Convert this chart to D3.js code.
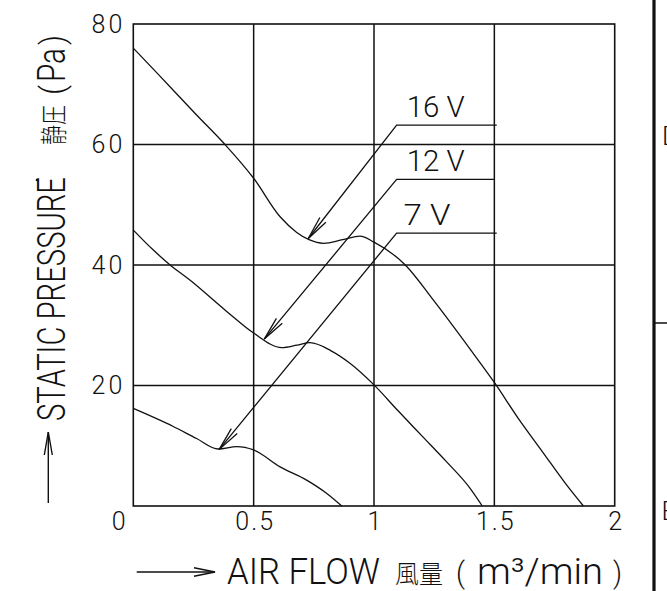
<!DOCTYPE html>
<html>
<head>
<meta charset="utf-8">
<script src="https://cdn.jsdelivr.net/npm/d3@7/dist/d3.min.js"></script>
<style>
  body { margin: 0; background: #fff; }
  svg { display: block; }
  text { font-family: Roboto, "Liberation Sans", sans-serif; font-weight: 300; fill: #111; }
  .cjk { font-family: "Noto Sans CJK JP", "Noto Sans CJK SC", sans-serif; font-weight: 300; }
</style>
</head>
<body>
<script>
// P-Q curves (flow m3/min, static pressure Pa)
var flow16 = [0, 0.1, 0.263, 0.381, 0.5, 0.61, 0.679, 0.73, 0.79, 0.87, 0.942, 1.0, 1.13, 1.25, 1.4, 1.5, 1.6, 1.7, 1.8, 1.87];
var pres16 = [76, 71.8, 64.9, 60, 54.4, 48, 45.4, 44.2, 43.6, 44.2, 44.8, 43.8, 40, 34, 26, 20.5, 14.5, 9, 3.5, 0];
var flow12 = [0, 0.08, 0.153, 0.235, 0.388, 0.5, 0.617, 0.68, 0.734, 0.82, 0.9, 1.0, 1.1, 1.2, 1.3, 1.4, 1.45];
var pres12 = [45.8, 42.6, 40, 37.5, 32.3, 28.7, 26.3, 26.7, 27.1, 25.8, 23.7, 20.1, 15.8, 11.6, 7.4, 2.9, 0];
var flow7 = [0, 0.166, 0.263, 0.353, 0.43, 0.5, 0.61, 0.72, 0.8, 0.866];
var pres7 = [16.2, 13.2, 11.2, 9.46, 9.85, 9.3, 6.5, 4.3, 2.2, 0];

var xTicks = [0, 0.5, 1, 1.5, 2];
var yTicks = [20, 40, 60, 80];
var xTickLabels = ['0', '0.5', '1', '1.5', '2'];

// leader labels: text, where the leader leaves (flow, Pa), where it ends on the line, arrow tip
var labels = ['16 V', '12 V', '7 V'];
var leaderFlow = [1.094, 1.094, 1.094];
var leaderEnd = [1.51, 1.50, 1.51];
var leaderPres = [63.2, 54.2, 45.3];
var tipFlow = [0.727, 0.544, 0.357];
var tipPres = [44.4, 27.7, 9.4];

var W = 667, H = 591;
var svg = d3.select('body').append('svg').attr('width', W).attr('height', H);

var x = d3.scaleLinear().domain([0, 2]).range([133.3, 614.7]);
var y = d3.scaleLinear().domain([0, 80]).range([506, 24]);

var ink = '#111';

// grid
svg.append('g').selectAll('line').data([0.5, 1, 1.5]).enter().append('line')
    .attr('x1', function(d) { return x(d); }).attr('x2', function(d) { return x(d); })
    .attr('y1', y(0)).attr('y2', y(80))
    .attr('stroke', ink).attr('stroke-width', 1.5);
svg.append('g').selectAll('line').data([20, 40, 60]).enter().append('line')
    .attr('x1', x(0)).attr('x2', x(2))
    .attr('y1', function(d) { return y(d); }).attr('y2', function(d) { return y(d); })
    .attr('stroke', ink).attr('stroke-width', 1.5);
svg.append('rect')
    .attr('x', x(0)).attr('y', y(80))
    .attr('width', x(2) - x(0)).attr('height', y(0) - y(80))
    .attr('fill', 'none').attr('stroke', ink).attr('stroke-width', 1.6);

// axes (labels only, the frame is drawn above)
var yAxis = d3.axisLeft(y).tickValues(yTicks).tickSize(0).tickPadding(8);
var gy = svg.append('g').attr('transform', 'translate(' + x(0) + ',0)').call(yAxis);
gy.select('.domain').remove();
gy.selectAll('text')
    .style('font-family', 'Roboto, sans-serif').style('font-weight', 300)
    .style('font-size', '25px').style('letter-spacing', '3px')
    .attr('fill', ink);

var xAxis = d3.axisBottom(x).tickValues(xTicks).tickSize(0).tickPadding(6)
    .tickFormat(function(d, i) { return xTickLabels[i]; });
var gx = svg.append('g').attr('transform', 'translate(0,' + y(0) + ')').call(xAxis);
gx.select('.domain').remove();
gx.selectAll('text')
    .style('font-family', 'Roboto, sans-serif').style('font-weight', 300)
    .style('font-size', '25px').style('letter-spacing', '2px')
    .attr('fill', ink)
    .attr('dx', function(d) { return d === 0 ? -14 : 1; });

// curves
var line = d3.line()
    .x(function(d) { return x(d[0]); })
    .y(function(d) { return y(d[1]); })
    .curve(d3.curveMonotoneX);

function zip(a, b) { return a.map(function(v, i) { return [v, b[i]]; }); }
var series = [zip(flow16, pres16), zip(flow12, pres12), zip(flow7, pres7)];

svg.append('g').selectAll('path').data(series).enter().append('path')
    .attr('d', line)
    .attr('fill', 'none').attr('stroke', ink).attr('stroke-width', 1.3);

// leaders with open arrowheads
labels.forEach(function(t, i) {
    var x0 = x(leaderEnd[i]), x1 = x(leaderFlow[i]), yy = y(leaderPres[i]);
    var tx = x(tipFlow[i]), ty = y(tipPres[i]);
    svg.append('polyline')
        .attr('points', [[x0, yy], [x1, yy], [tx, ty]].map(function(p) { return p.join(','); }).join(' '))
        .attr('fill', 'none').attr('stroke', ink).attr('stroke-width', 1.3);
    var ang = Math.atan2(yy - ty, x1 - tx), len = 24, spread = 0.16;
    [ang - spread, ang + spread].forEach(function(a) {
        svg.append('line')
            .attr('x1', tx).attr('y1', ty)
            .attr('x2', tx + len * Math.cos(a)).attr('y2', ty + len * Math.sin(a))
            .attr('stroke', ink).attr('stroke-width', 1.3);
    });
    svg.append('text')
        .attr('x', x1 + (t.length > 3 ? 10 : 7)).attr('y', yy - 8)
        .attr('textLength', t.length > 3 ? 58 : 47).attr('lengthAdjust', 'spacingAndGlyphs')
        .style('font-size', '29px')
        .text(t);
});

// y title, pieces placed along the axis (bottom to top)
var yt = svg.append('g').attr('transform', 'translate(65,0)');
function vtext(str, y0, y1, size, cls, dx) {
    yt.append('text')
        .attr('class', cls || null)
        .attr('transform', 'translate(' + (dx || 0) + ',' + y0 + ') rotate(-90)')
        .attr('textLength', y0 - y1).attr('lengthAdjust', 'spacingAndGlyphs')
        .style('font-size', size + 'px')
        .text(str);
}
vtext('STATIC PRESSURE', 421, 177, 39);
vtext('静圧', 145, 105, 27, 'cjk', -1);
vtext('(', 95, 85, 34, null, -1);
vtext('Pa', 82, 48, 39);
vtext(')', 45, 35, 34, null, -1);

svg.append('line').attr('x1', 48.3).attr('x2', 48.3).attr('y1', 503).attr('y2', 432)
    .attr('stroke', ink).attr('stroke-width', 1.4);
svg.append('polyline').attr('points', '44.3,455 48.3,432 52.3,455')
    .attr('fill', 'none').attr('stroke', ink).attr('stroke-width', 1.4);

// x title
function htext(str, x0, x1, size, cls, dy) {
    svg.append('text')
        .attr('class', cls || null)
        .attr('x', x0).attr('y', 583.5 + (dy || 0))
        .attr('textLength', x1 - x0).attr('lengthAdjust', 'spacingAndGlyphs')
        .style('font-size', size + 'px')
        .text(str);
}
htext('AIR FLOW', 227, 380, 36);
htext('風量', 395, 443, 25, 'cjk', -1);
htext('(', 456, 465, 30, null, -1);
htext('m³/min', 477, 603, 36);
htext(')', 613, 622, 30, null, -1);

svg.append('line').attr('x1', 136.7).attr('x2', 215).attr('y1', 572).attr('y2', 572)
    .attr('stroke', ink).attr('stroke-width', 1.4);
svg.append('polyline').attr('points', '194,567.7 215,572 194,576.3')
    .attr('fill', 'none').attr('stroke', ink).attr('stroke-width', 1.4);

// stray dot and the edge of the neighbouring panel
svg.append('circle').attr('cx', 37).attr('cy', 180).attr('r', 1.3).attr('fill', ink);
svg.append('line').attr('x1', 654).attr('x2', 654).attr('y1', 0).attr('y2', H)
    .attr('stroke', ink).attr('stroke-width', 3.2);
svg.append('line').attr('x1', 654).attr('x2', W).attr('y1', 323).attr('y2', 323)
    .attr('stroke', ink).attr('stroke-width', 1.5);
svg.append('text').attr('x', 662).attr('y', 145).style('font-size', '26px').text('D');
svg.append('text').attr('x', 661.5).attr('y', 520).style('font-size', '26px').text('E');
</script>
</body>
</html>
